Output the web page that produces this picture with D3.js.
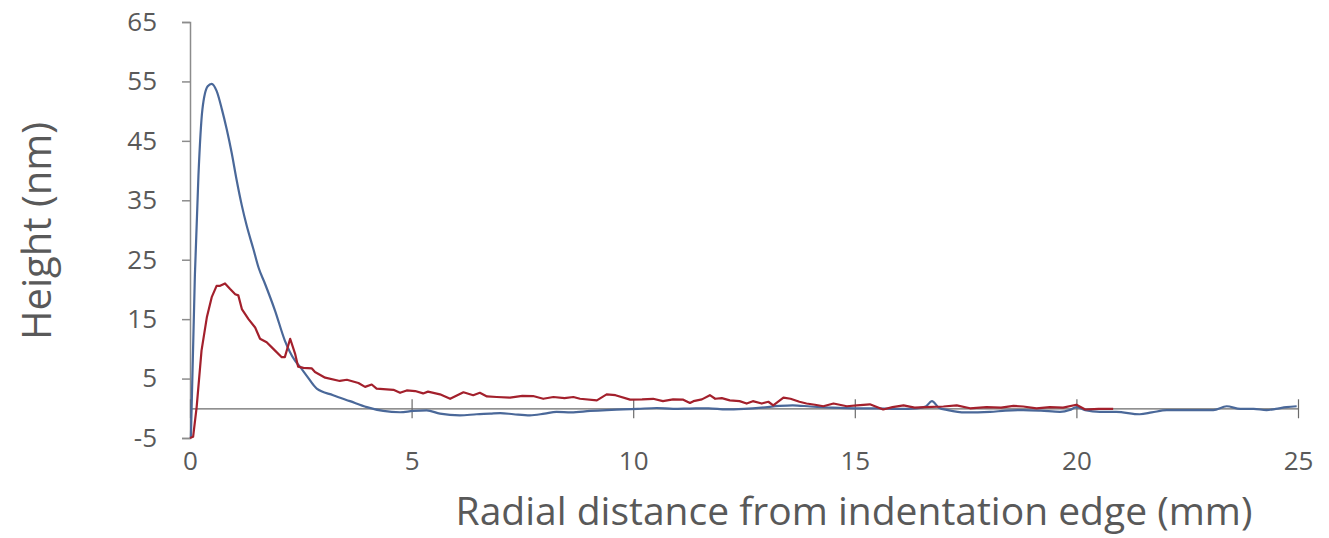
<!DOCTYPE html>
<html lang="en">
<head>
<meta charset="utf-8">
<title>Height profile</title>
<style>
    body { margin: 0; background: #fff; font-family: "Open Sans", sans-serif; }
</style>
</head>
<body>
<script src="https://cdnjs.cloudflare.com/ajax/libs/d3/7.8.5/d3.min.js"></script>
<script>

// radial distance (mm) and height (nm)
var blueX = [0.02, 0.11, 0.19, 0.28, 0.40, 0.49, 0.60, 0.72, 0.83, 0.94, 1.05, 1.17, 1.28, 1.43, 1.55, 1.69, 1.92, 2.14, 2.37, 2.48,
             2.63, 2.86, 3.23, 3.61, 3.99, 4.36, 4.74, 5.03, 5.34, 5.64, 6.09, 6.47, 6.77, 7.00, 7.30, 7.67, 8.00, 8.27, 8.60, 9.03,
             9.40, 9.77, 10.10, 10.53, 10.90, 11.28, 11.70, 12.10, 12.50, 12.90, 13.30, 13.60, 14.00, 14.50, 15.00, 15.50, 16.00, 16.40, 16.60, 16.74,
             16.90, 17.10, 17.50, 18.05, 18.40, 18.80, 19.20, 19.63, 19.85, 20.00, 20.20, 20.53, 20.90, 21.43, 21.70, 22.04, 22.50, 23.09, 23.39, 23.70,
             24.00, 24.29, 24.50, 24.74, 24.97];
var blueY = [-5.0, 22.3, 39.1, 50.3, 54.2, 54.6, 53.4, 50.3, 46.9, 43.0, 38.5, 34.1, 30.7, 26.8, 23.6, 21.0, 16.4, 11.4, 8.0, 7.0,
             5.5, 3.3, 2.2, 1.2, 0.2, -0.45, -0.67, -0.45, -0.34, -0.9, -1.2, -1.0, -0.9, -0.8, -1.0, -1.2, -0.9, -0.6, -0.7, -0.45,
             -0.3, -0.2, -0.1, 0.05, -0.1, -0.05, 0.0, -0.2, -0.1, 0.1, 0.4, 0.5, 0.3, 0.1, 0.0, 0.0, -0.1, 0.0, 0.3, 1.2,
             0.1, -0.3, -0.7, -0.6, -0.4, -0.3, -0.4, -0.6, -0.3, 0.2, -0.3, -0.6, -0.6, -1.0, -0.7, -0.3, -0.3, -0.3, 0.34, -0.1,
             -0.1, -0.3, -0.1, 0.2, 0.34];

var redX = [0.00, 0.07, 0.15, 0.26, 0.38, 0.49, 0.60, 0.68, 0.79, 0.90, 1.02, 1.09, 1.17, 1.32, 1.47, 1.58, 1.73, 1.88, 2.07, 2.14,
            2.26, 2.37, 2.44, 2.56, 2.75, 2.82, 3.05, 3.38, 3.54, 3.80, 3.95, 4.10, 4.21, 4.59, 4.74, 4.89, 5.08, 5.26, 5.37, 5.64,
            5.87, 6.17, 6.39, 6.54, 6.70, 6.92, 7.22, 7.50, 7.74, 7.97, 8.20, 8.45, 8.65, 8.80, 9.18, 9.40, 9.60, 9.93, 10.20, 10.45,
            10.67, 10.90, 11.13, 11.28, 11.36, 11.55, 11.73, 11.85, 12.00, 12.18, 12.40, 12.56, 12.70, 12.90, 13.05, 13.16, 13.39, 13.55, 13.75, 13.91,
            14.10, 14.29, 14.52, 14.82, 15.05, 15.34, 15.64, 15.85, 16.10, 16.35, 16.60, 17.00, 17.30, 17.60, 17.97, 18.30, 18.58, 18.80, 19.10, 19.40,
            19.70, 20.00, 20.20, 20.50, 20.83];
var redY = [-5.0, -4.8, 0.2, 9.7, 15.3, 18.7, 20.6, 20.6, 21.0, 20.1, 19.2, 19.0, 16.7, 15.0, 13.6, 11.7, 11.1, 10.0, 8.6, 8.6,
            11.7, 9.2, 7.0, 6.8, 6.7, 6.1, 5.15, 4.6, 4.8, 4.25, 3.6, 4.0, 3.3, 3.1, 2.6, 3.0, 2.9, 2.5, 2.8, 2.35,
            1.6, 2.7, 2.2, 2.6, 2.0, 1.9, 1.8, 2.1, 2.06, 1.6, 1.9, 1.7, 1.9, 1.6, 1.34, 2.35, 2.2, 1.45, 1.5, 1.6,
            1.2, 1.5, 1.45, 0.9, 1.2, 1.5, 2.2, 1.6, 1.7, 1.34, 1.2, 0.8, 1.2, 0.8, 1.1, 0.5, 1.8, 1.6, 1.1, 0.8,
            0.6, 0.34, 0.8, 0.34, 0.5, 0.67, -0.2, 0.2, 0.5, 0.1, 0.2, 0.3, 0.5, 0.0, 0.2, 0.1, 0.4, 0.3, 0.0, 0.2,
            0.1, 0.6, -0.2, -0.1, -0.1];

var yTicks = [-5, 5, 15, 25, 35, 45, 55, 65];
var xTicks = [0, 5, 10, 15, 20, 25];

var W = 1329, H = 538;

var svg = d3.select("body").append("svg")
    .attr("width", W)
    .attr("height", H);

var x = d3.scaleLinear().domain([0, 25]).range([190, 1298]);
var y = d3.scaleLinear().domain([-5, 65]).range([438, 22]);

var grey = "#8c8c8c", labelCol = "#595959";
var plain = function(d) { return String(d); };   // keep the ascii hyphen in "-5"

// y axis
var yAxis = svg.append("g")
    .attr("transform", "translate(" + x(0) + ",0)")
    .call(d3.axisLeft(y).tickValues(yTicks).tickFormat(plain).tickSizeOuter(0).tickSize(8).tickPadding(25));
yAxis.select(".domain").attr("stroke", grey).attr("stroke-width", 1.5);
yAxis.selectAll(".tick line").attr("stroke", grey).attr("stroke-width", 1.5);
yAxis.selectAll(".tick text")
    .attr("fill", labelCol)
    .style("font-family", "'Open Sans', sans-serif")
    .style("font-size", "26px");

// x axis sits on the zero line, ticks cross it
var xAxis = svg.append("g")
    .attr("transform", "translate(0," + y(0) + ")")
    .call(d3.axisBottom(x).tickValues(xTicks).tickFormat(plain).tickSizeOuter(0));
xAxis.select(".domain").attr("stroke", "#6b6b6b").attr("stroke-width", 1.2);
xAxis.selectAll(".tick line")
    .attr("y1", -9).attr("y2", 10)
    .attr("stroke", "#6b6b6b").attr("stroke-width", 1.2);
xAxis.selectAll(".tick text")
    .attr("y", y(-5) - y(0) + 14)
    .attr("dy", "0.71em")
    .attr("fill", labelCol)
    .style("font-family", "'Open Sans', sans-serif")
    .style("font-size", "26px");

// lines
var blue = d3.zip(blueX, blueY), red = d3.zip(redX, redY);

svg.append("path")
    .datum(blue)
    .attr("fill", "none")
    .attr("stroke", "#4a6899")
    .attr("stroke-width", 2.2)
    .attr("stroke-linejoin", "round")
    .attr("d", d3.line().x(function(d) { return x(d[0]); }).y(function(d) { return y(d[1]); }).curve(d3.curveMonotoneX));

svg.append("path")
    .datum(red)
    .attr("fill", "none")
    .attr("stroke", "#a3202c")
    .attr("stroke-width", 2.2)
    .attr("stroke-linejoin", "round")
    .attr("d", d3.line().x(function(d) { return x(d[0]); }).y(function(d) { return y(d[1]); }));

// axis titles
svg.append("text")
    .attr("transform", "translate(51," + 231 + ") rotate(-90)")
    .attr("text-anchor", "middle")
    .attr("fill", labelCol)
    .style("font-size", "40px")
    .text("Height (nm)");

svg.append("text")
    .attr("x", 854)
    .attr("y", 525)
    .attr("text-anchor", "middle")
    .attr("fill", labelCol)
    .style("font-size", "39px")
    .text("Radial distance from indentation edge (mm)");

</script>
</body>
</html>
